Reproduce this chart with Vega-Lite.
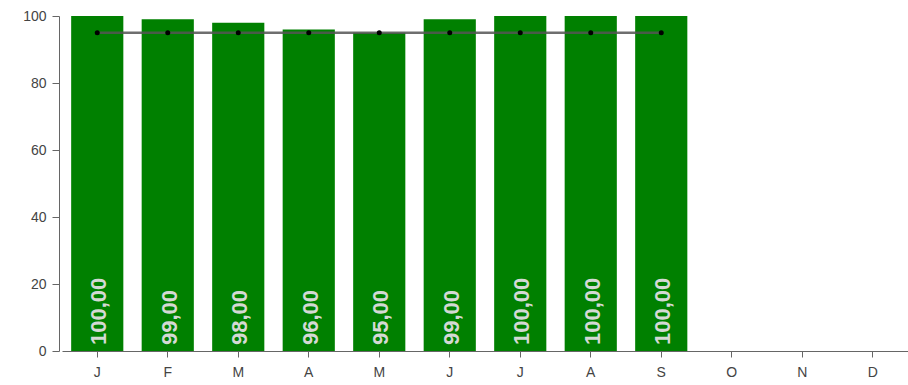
{
  "$schema": "https://vega.github.io/schema/vega-lite/v6.json",
  "autosize": "none",
  "width": 846,
  "height": 335,
  "padding": {"left": 62, "top": 16, "right": 0, "bottom": 34},
  "background": "white",
  "config": {
    "view": {"stroke": null},
    "locale": {"number": {"decimal": ",", "thousands": ".", "grouping": [3], "currency": ["", " €"]}},
    "axis": {"labelFont": "Liberation Sans", "labelFontSize": 14, "labelColor": "#444", "domainColor": "#666", "tickColor": "#666", "grid": false}
  },
  "data": {
    "values": [
      {"month": "Jan", "value": 100, "target": 95},
      {"month": "Feb", "value": 99, "target": 95},
      {"month": "Mar", "value": 98, "target": 95},
      {"month": "Apr", "value": 96, "target": 95},
      {"month": "May", "value": 95, "target": 95},
      {"month": "Jun", "value": 99, "target": 95},
      {"month": "Jul", "value": 100, "target": 95},
      {"month": "Aug", "value": 100, "target": 95},
      {"month": "Sep", "value": 100, "target": 95},
      {"month": "Oct", "value": null, "target": null},
      {"month": "Nov", "value": null, "target": null},
      {"month": "Dec", "value": null, "target": null}
    ]
  },
  "encoding": {
    "x": {
      "field": "month", "type": "ordinal", "sort": null,
      "scale": {"paddingInner": 0.26, "paddingOuter": 0.13},
      "axis": {"title": null, "labelAngle": 0, "labelExpr": "substring(datum.label, 0, 1)", "tickSize": 6, "labelPadding": 8}
    }
  },
  "layer": [
    {
      "mark": {"type": "bar", "color": "#008000"},
      "encoding": {
        "y": {"field": "value", "type": "quantitative", "scale": {"domain": [0, 100], "nice": false},
          "axis": {"title": null, "values": [0, 20, 40, 60, 80, 100], "offset": 3, "tickSize": 7, "labelPadding": 6}}
      }
    },
    {
      "transform": [{"filter": "isValid(datum.value)"}],
      "mark": {"type": "text", "angle": -90, "align": "left", "baseline": "middle", "dx": 6, "dy": 2, "font": "Liberation Sans", "fontSize": 22, "fontWeight": "bold", "color": "#d4d9d4"},
      "encoding": {
        "y": {"datum": 0, "type": "quantitative"},
        "text": {"field": "value", "type": "quantitative", "format": ".2f"}
      }
    },
    {
      "mark": {"type": "line", "color": "#555", "strokeWidth": 2.5, "opacity": 0.85},
      "encoding": {"y": {"field": "target", "type": "quantitative"}}
    },
    {
      "mark": {"type": "point", "filled": true, "color": "#000", "size": 25, "opacity": 1},
      "encoding": {"y": {"field": "target", "type": "quantitative"}}
    }
  ]
}
